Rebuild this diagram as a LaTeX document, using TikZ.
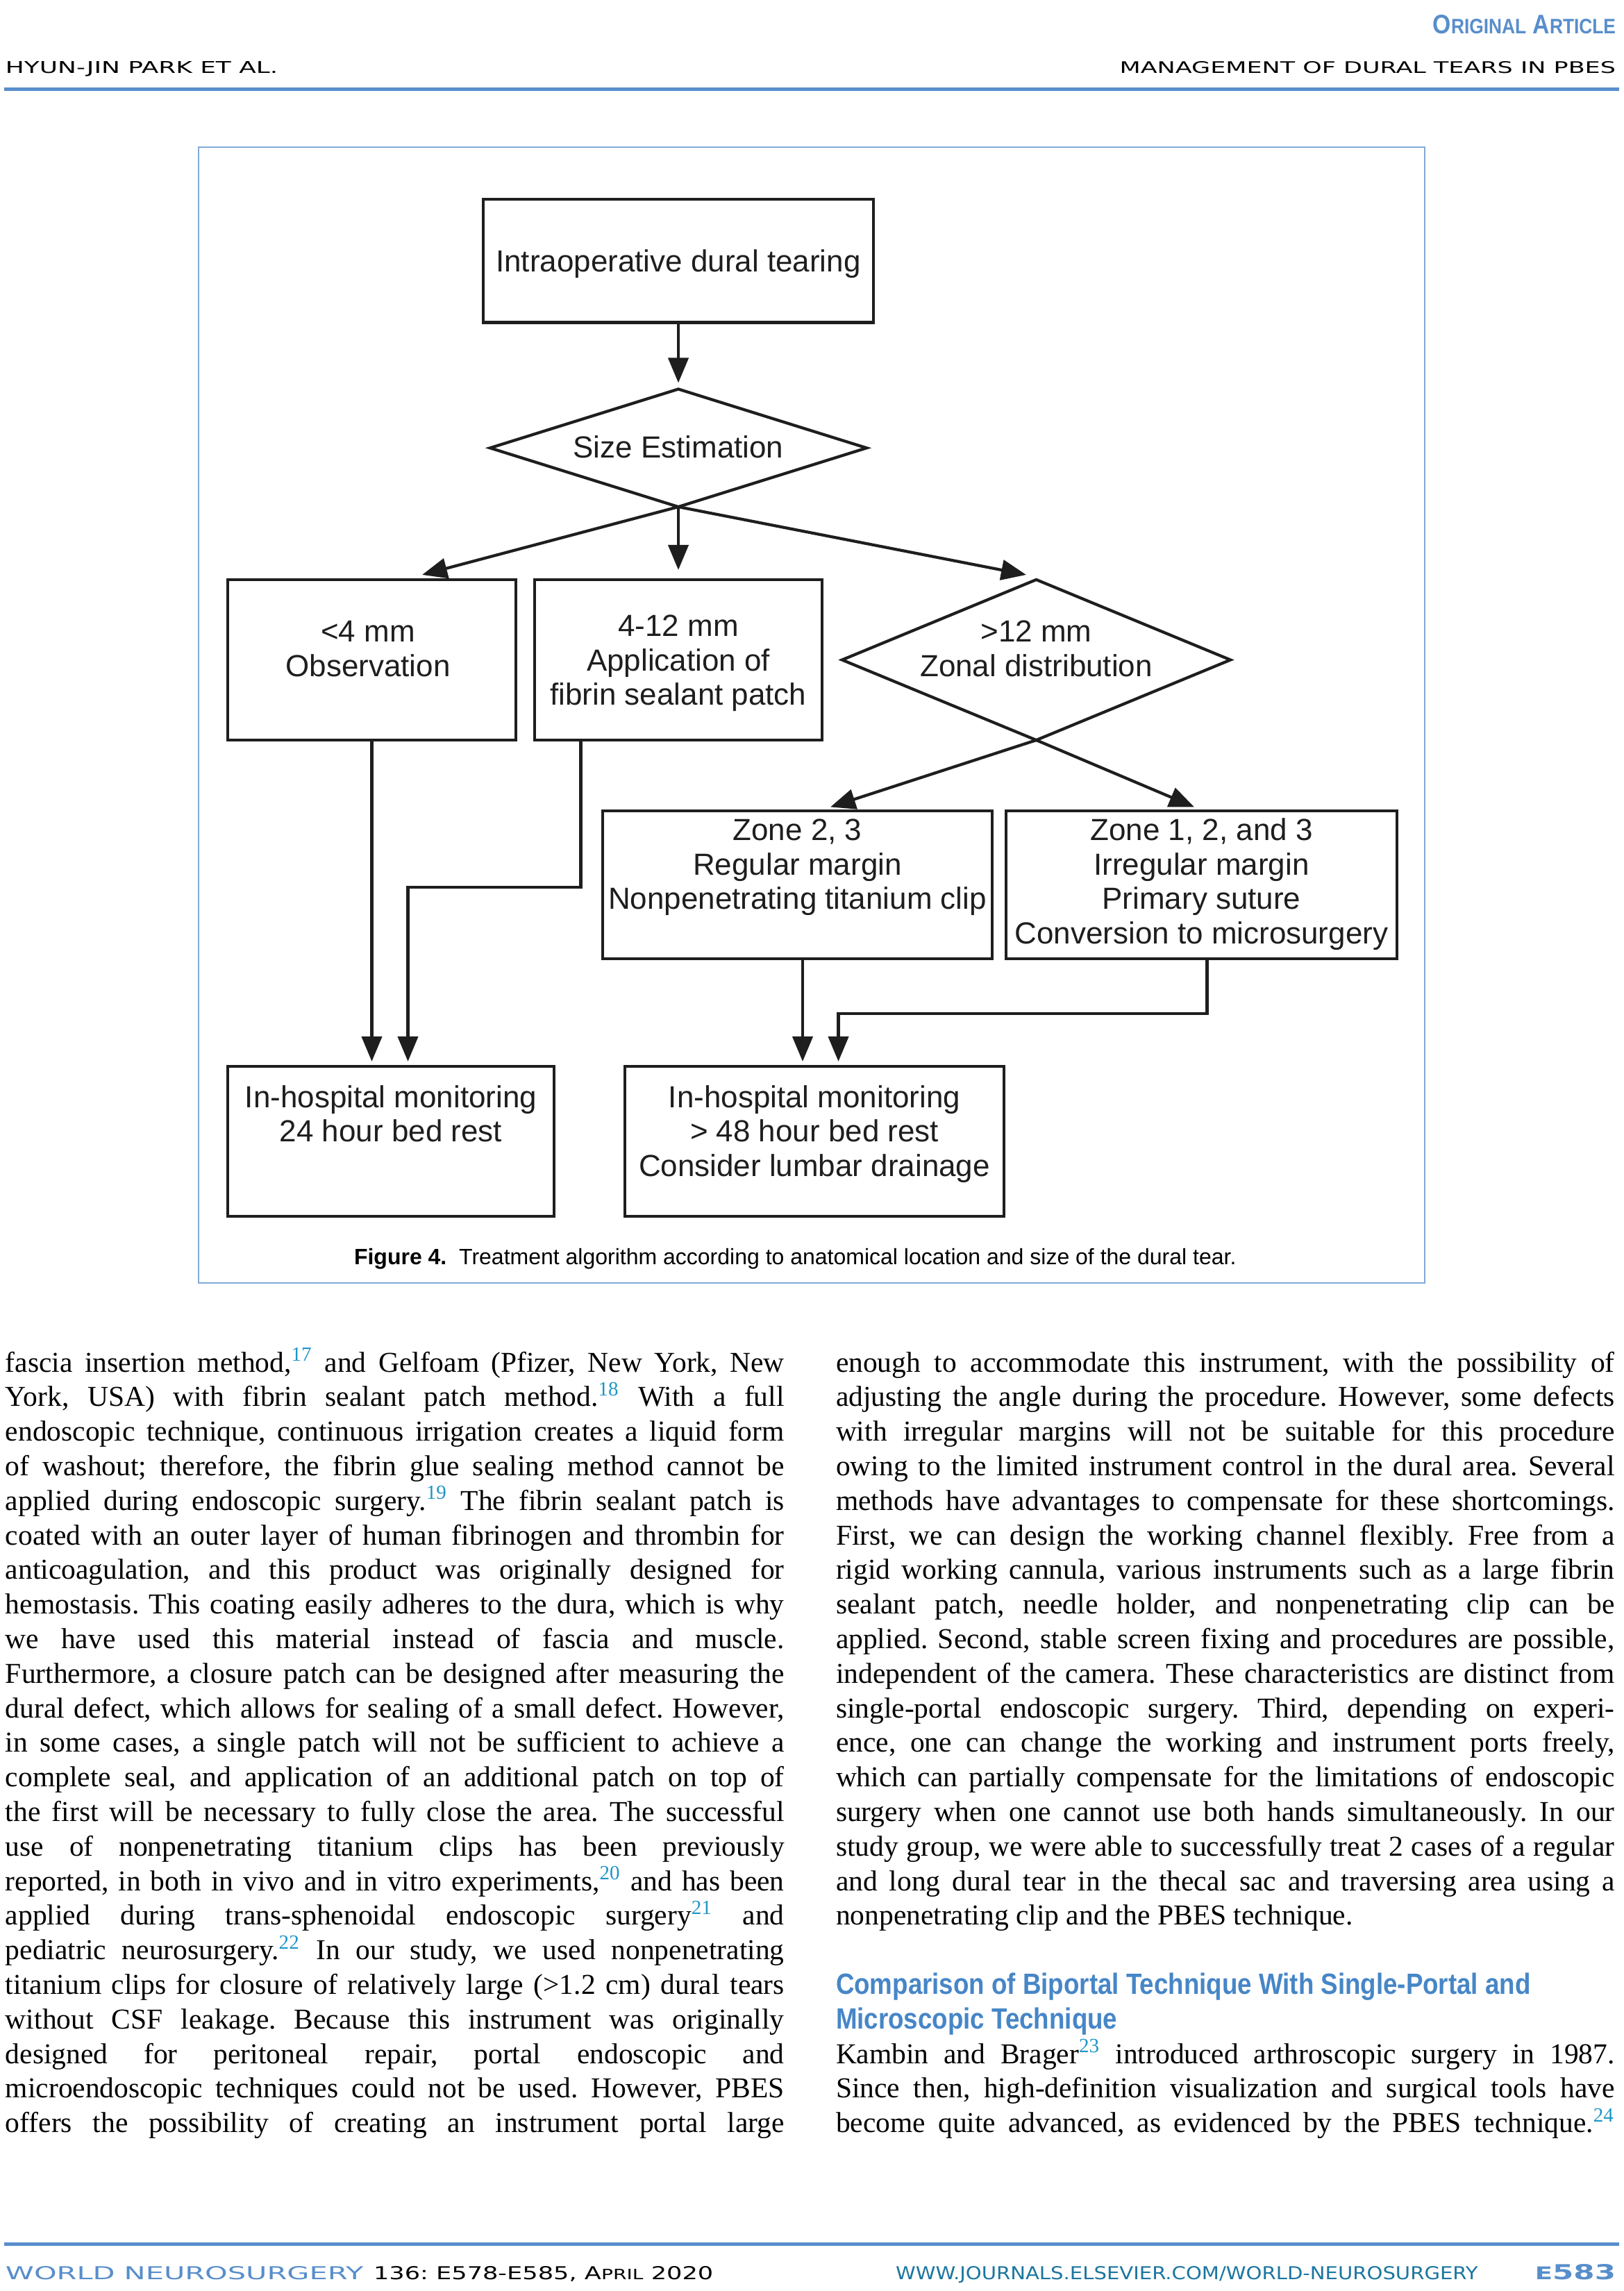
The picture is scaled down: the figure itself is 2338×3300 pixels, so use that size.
\documentclass[tikz,border=0pt]{standalone}
\usepackage{fontspec}
\usepackage{graphicx}
\usetikzlibrary{arrows.meta,shapes.geometric}
\setmainfont{Liberation Serif}
\newfontfamily\flowfont{Liberation Sans}
\newfontfamily\headfont{Liberation Sans}[FakeStretch=0.87]
\newfontfamily\hdrfont{DejaVu Sans}
\definecolor{hblue}{RGB}{88,142,203}
\definecolor{headblue}{RGB}{70,134,199}
\definecolor{supblue}{RGB}{30,150,200}
\definecolor{urlblue}{RGB}{28,118,160}
\definecolor{framec}{RGB}{130,170,215}
\definecolor{lc}{RGB}{30,30,30}
\frenchspacing
\newcommand\sups[1]{\textsuperscript{\textcolor{supblue}{#1}}}
\newcommand\bodyfs{\fontsize{11.8pt}{14.2pt}\selectfont}
\newcommand\flowfs{\flowfont\fontsize{12.5pt}{14.1pt}\selectfont}
\newcommand\capfs{\flowfont\fontsize{9.1pt}{11pt}\selectfont}
\newcommand\headfs{\headfont\bfseries\fontsize{12pt}{14pt}\selectfont}
\newcommand\bodyJ[4]{\node[btxt] (#1) at (#2,{1976+(#3-1)*49.8}) {\makebox[11.21cm][s]{#4}};}
\newcommand\bodyL[4]{\node[btxt] (#1) at (#2,{1976+(#3-1)*49.8}) {#4};}
\newcommand\ftxt[4]{\node[ftx] (#1) at (#2,{#3-40}) {\rule{0pt}{0.4cm}#4};}
\begin{document}
\begin{tikzpicture}[x=0.01cm,y=-0.01cm,
  btxt/.style={anchor=base west, inner sep=0, outer sep=0, font=\bodyfs},
  ftx/.style={anchor=north, inner sep=0, align=center, font=\flowfs, text=lc},
  fbox/.style={draw=lc, line width=1.2pt, inner sep=0, outer sep=0},
  fdia/.style={diamond, draw=lc, line width=1.2pt, inner sep=0, outer sep=0},
  arr/.style={draw=lc, line width=1.2pt, -{Triangle[length=0.36cm,width=0.29cm]}},
  hf/.style={inner sep=0, outer sep=0}
]
\fill[white] (0,0) rectangle (2338,3300);
\useasboundingbox (0,0) rectangle (2338,3300);

% ---------- header ----------
\node[hf, anchor=base east, text=hblue] (oa) at (2327,48)
  {\resizebox{2.63cm}{0.27cm}{\flowfont\bfseries O\scalebox{0.78}{RIGINAL} A\scalebox{0.78}{RTICLE}}};
\node[hf, anchor=base west] (hl) at (8,106)
  {\resizebox{3.92cm}{0.17cm}{\hdrfont HYUN-JIN PARK ET AL.}};
\node[hf, anchor=base east] (hr) at (2327,106)
  {\resizebox{7.14cm}{0.17cm}{\hdrfont MANAGEMENT OF DURAL TEARS IN PBES}};
\draw[hblue, line width=0.05cm] (6,129) -- (2332,129);

% ---------- figure frame ----------
\draw[framec, line width=0.02cm] (286,212) rectangle (2052,1848);

% ---------- flowchart ----------
\node[fbox, minimum width=5.62cm, minimum height=1.775cm] (b1) at (977,375.75) {};
\ftxt{b1t}{977}{390.7}{Intraoperative dural tearing}
\node[fdia, minimum width=5.42cm, minimum height=1.695cm] (d1) at (977,645.25) {};
\ftxt{d1t}{977}{659}{Size Estimation}
\node[fbox, minimum width=4.15cm, minimum height=2.31cm] (obs) at (535.5,950.5) {};
\ftxt{obst}{530}{924}{<4 mm\\Observation}
\node[fbox, minimum width=4.14cm, minimum height=2.31cm] (fib) at (977,950.5) {};
\ftxt{fibt}{977}{916}{4-12 mm\\Application of\\fibrin sealant patch}
\node[fdia, minimum width=5.59cm, minimum height=2.31cm] (d2) at (1492.5,950.5) {};
\ftxt{d2t}{1492.5}{924}{>12 mm\\Zonal distribution}
\node[fbox, minimum width=5.61cm, minimum height=2.13cm] (z23) at (1148.5,1274.5) {};
\ftxt{z23t}{1148.5}{1209.7}{Zone 2, 3\\Regular margin\\Nonpenetrating titanium clip}
\node[fbox, minimum width=5.63cm, minimum height=2.13cm] (z123) at (1730.5,1274.5) {};
\ftxt{z123t}{1730.5}{1209.7}{Zone 1, 2, and 3\\Irregular margin\\Primary suture\\Conversion to microsurgery}
\node[fbox, minimum width=4.70cm, minimum height=2.156cm] (h24) at (563,1643.8) {};
\ftxt{h24t}{563}{1594.5}{In-hospital monitoring\\24 hour bed rest}
\node[fbox, minimum width=5.46cm, minimum height=2.156cm] (h48) at (1173,1643.8) {};
\ftxt{h48t}{1173}{1594.5}{In-hospital monitoring\\> 48 hour bed rest\\Consider lumbar drainage}

\draw[arr] (b1.south) -- ([yshift=0.09cm]d1.north);
\draw[arr] (d1.south) -- ([xshift=0.725cm,yshift=0.07cm]obs.north);
\draw[arr] (d1.south) -- ([yshift=0.14cm]fib.north);
\draw[arr] (d1.south) -- ([xshift=-0.145cm,yshift=0.07cm]d2.north);
\draw[arr] (d2.south) -- ([xshift=0.475cm,yshift=0.055cm]z23.north);
\draw[arr] (d2.south) -- ([xshift=-0.105cm,yshift=0.055cm]z123.north);
\draw[arr] (obs.south) -- ([yshift=0.07cm]obs.south |- h24.north);
\draw[arr] ([xshift=-1.405cm]fib.south) -- ++(0,211.7) -| ([xshift=0.245cm,yshift=0.07cm]h24.north);
\draw[arr] ([xshift=0.075cm]z23.south) -- ([xshift=0.075cm,yshift=0.07cm]z23.south |- h48.north);
\draw[arr] ([xshift=0.08cm]z123.south) -- ++(0,79) -| ([xshift=0.345cm,yshift=0.07cm]h48.north);

\node[hf, anchor=base west, font=\capfs] (cap) at (510,1821)
  {{\bfseries Figure 4.}\ \ Treatment algorithm according to anatomical location and size of the dural tear.};

% ---------- left column ----------
\bodyJ{l1}{8}{1}{fascia insertion method,\sups{17} and Gelfoam (Pfizer, New York, New}
\bodyJ{l2}{8}{2}{York, USA) with fibrin sealant patch method.\sups{18} With a full}
\bodyJ{l3}{8}{3}{endoscopic technique, continuous irrigation creates a liquid form}
\bodyJ{l4}{8}{4}{of washout; therefore, the fibrin glue sealing method cannot be}
\bodyJ{l5}{8}{5}{applied during endoscopic surgery.\sups{19} The fibrin sealant patch is}
\bodyJ{l6}{8}{6}{coated with an outer layer of human fibrinogen and thrombin for}
\bodyJ{l7}{8}{7}{anticoagulation, and this product was originally designed for}
\bodyJ{l8}{8}{8}{hemostasis. This coating easily adheres to the dura, which is why}
\bodyJ{l9}{8}{9}{we have used this material instead of fascia and muscle.}
\bodyJ{l10}{8}{10}{Furthermore, a closure patch can be designed after measuring the}
\bodyJ{l11}{8}{11}{dural defect, which allows for sealing of a small defect. However,}
\bodyJ{l12}{8}{12}{in some cases, a single patch will not be sufficient to achieve a}
\bodyJ{l13}{8}{13}{complete seal, and application of an additional patch on top of}
\bodyJ{l14}{8}{14}{the first will be necessary to fully close the area. The successful}
\bodyJ{l15}{8}{15}{use of nonpenetrating titanium clips has been previously}
\bodyJ{l16}{8}{16}{reported, in both in vivo and in vitro experiments,\sups{20} and has been}
\bodyJ{l17}{8}{17}{applied during trans-sphenoidal endoscopic surgery\sups{21} and}
\bodyJ{l18}{8}{18}{pediatric neurosurgery.\sups{22} In our study, we used nonpenetrating}
\bodyJ{l19}{8}{19}{titanium clips for closure of relatively large (>1.2 cm) dural tears}
\bodyJ{l20}{8}{20}{without CSF leakage. Because this instrument was originally}
\bodyJ{l21}{8}{21}{designed for peritoneal repair, portal endoscopic and}
\bodyJ{l22}{8}{22}{microendoscopic techniques could not be used. However, PBES}
\bodyJ{l23}{8}{23}{offers the possibility of creating an instrument portal large}

% ---------- right column ----------
\bodyJ{r1}{1204}{1}{enough to accommodate this instrument, with the possibility of}
\bodyJ{r2}{1204}{2}{adjusting the angle during the procedure. However, some defects}
\bodyJ{r3}{1204}{3}{with irregular margins will not be suitable for this procedure}
\bodyJ{r4}{1204}{4}{owing to the limited instrument control in the dural area. Several}
\bodyJ{r5}{1204}{5}{methods have advantages to compensate for these shortcomings.}
\bodyJ{r6}{1204}{6}{First, we can design the working channel flexibly. Free from a}
\bodyJ{r7}{1204}{7}{rigid working cannula, various instruments such as a large fibrin}
\bodyJ{r8}{1204}{8}{sealant patch, needle holder, and nonpenetrating clip can be}
\bodyJ{r9}{1204}{9}{applied. Second, stable screen fixing and procedures are possible,}
\bodyJ{r10}{1204}{10}{independent of the camera. These characteristics are distinct from}
\bodyJ{r11}{1204}{11}{single-portal endoscopic surgery. Third, depending on experi-}
\bodyJ{r12}{1204}{12}{ence, one can change the working and instrument ports freely,}
\bodyJ{r13}{1204}{13}{which can partially compensate for the limitations of endoscopic}
\bodyJ{r14}{1204}{14}{surgery when one cannot use both hands simultaneously. In our}
\bodyJ{r15}{1204}{15}{study group, we were able to successfully treat 2 cases of a regular}
\bodyJ{r16}{1204}{16}{and long dural tear in the thecal sac and traversing area using a}
\bodyL{r17}{1204}{17}{nonpenetrating clip and the PBES technique.}
\node[btxt, font=\headfs, text=headblue] (hd1) at (1204,{1976+18*49.8}) {Comparison of Biportal Technique With Single-Portal and};
\node[btxt, font=\headfs, text=headblue] (hd2) at (1204,{1976+19*49.8}) {Microscopic Technique};
\bodyJ{r21}{1204}{21}{Kambin and Brager\sups{23} introduced arthroscopic surgery in 1987.}
\bodyJ{r22}{1204}{22}{Since then, high-definition visualization and surgical tools have}
\bodyJ{r23}{1204}{23}{become quite advanced, as evidenced by the PBES technique.\sups{24}}

% ---------- footer ----------
\draw[hblue, line width=0.05cm] (6,3232) -- (2332,3232);
\node[hf, anchor=base west, text=hblue] (f1) at (8,3283)
  {\resizebox{5.15cm}{0.19cm}{\hdrfont WORLD NEUROSURGERY}};
\node[hf, anchor=base west] (f2) at (538,3283)
  {\resizebox{4.89cm}{0.19cm}{\hdrfont 136: E578-E585, A\scalebox{0.8}{PRIL} 2020}};
\node[hf, anchor=base west, text=urlblue] (f3) at (1290,3283)
  {\resizebox{8.38cm}{0.19cm}{\hdrfont WWW.JOURNALS.ELSEVIER.COM/WORLD-NEUROSURGERY}};
\node[hf, anchor=base east, text=hblue] (f4) at (2327,3283)
  {\resizebox{1.16cm}{0.22cm}{\hdrfont\bfseries\scalebox{0.85}{E}583}};
\end{tikzpicture}
\end{document}
